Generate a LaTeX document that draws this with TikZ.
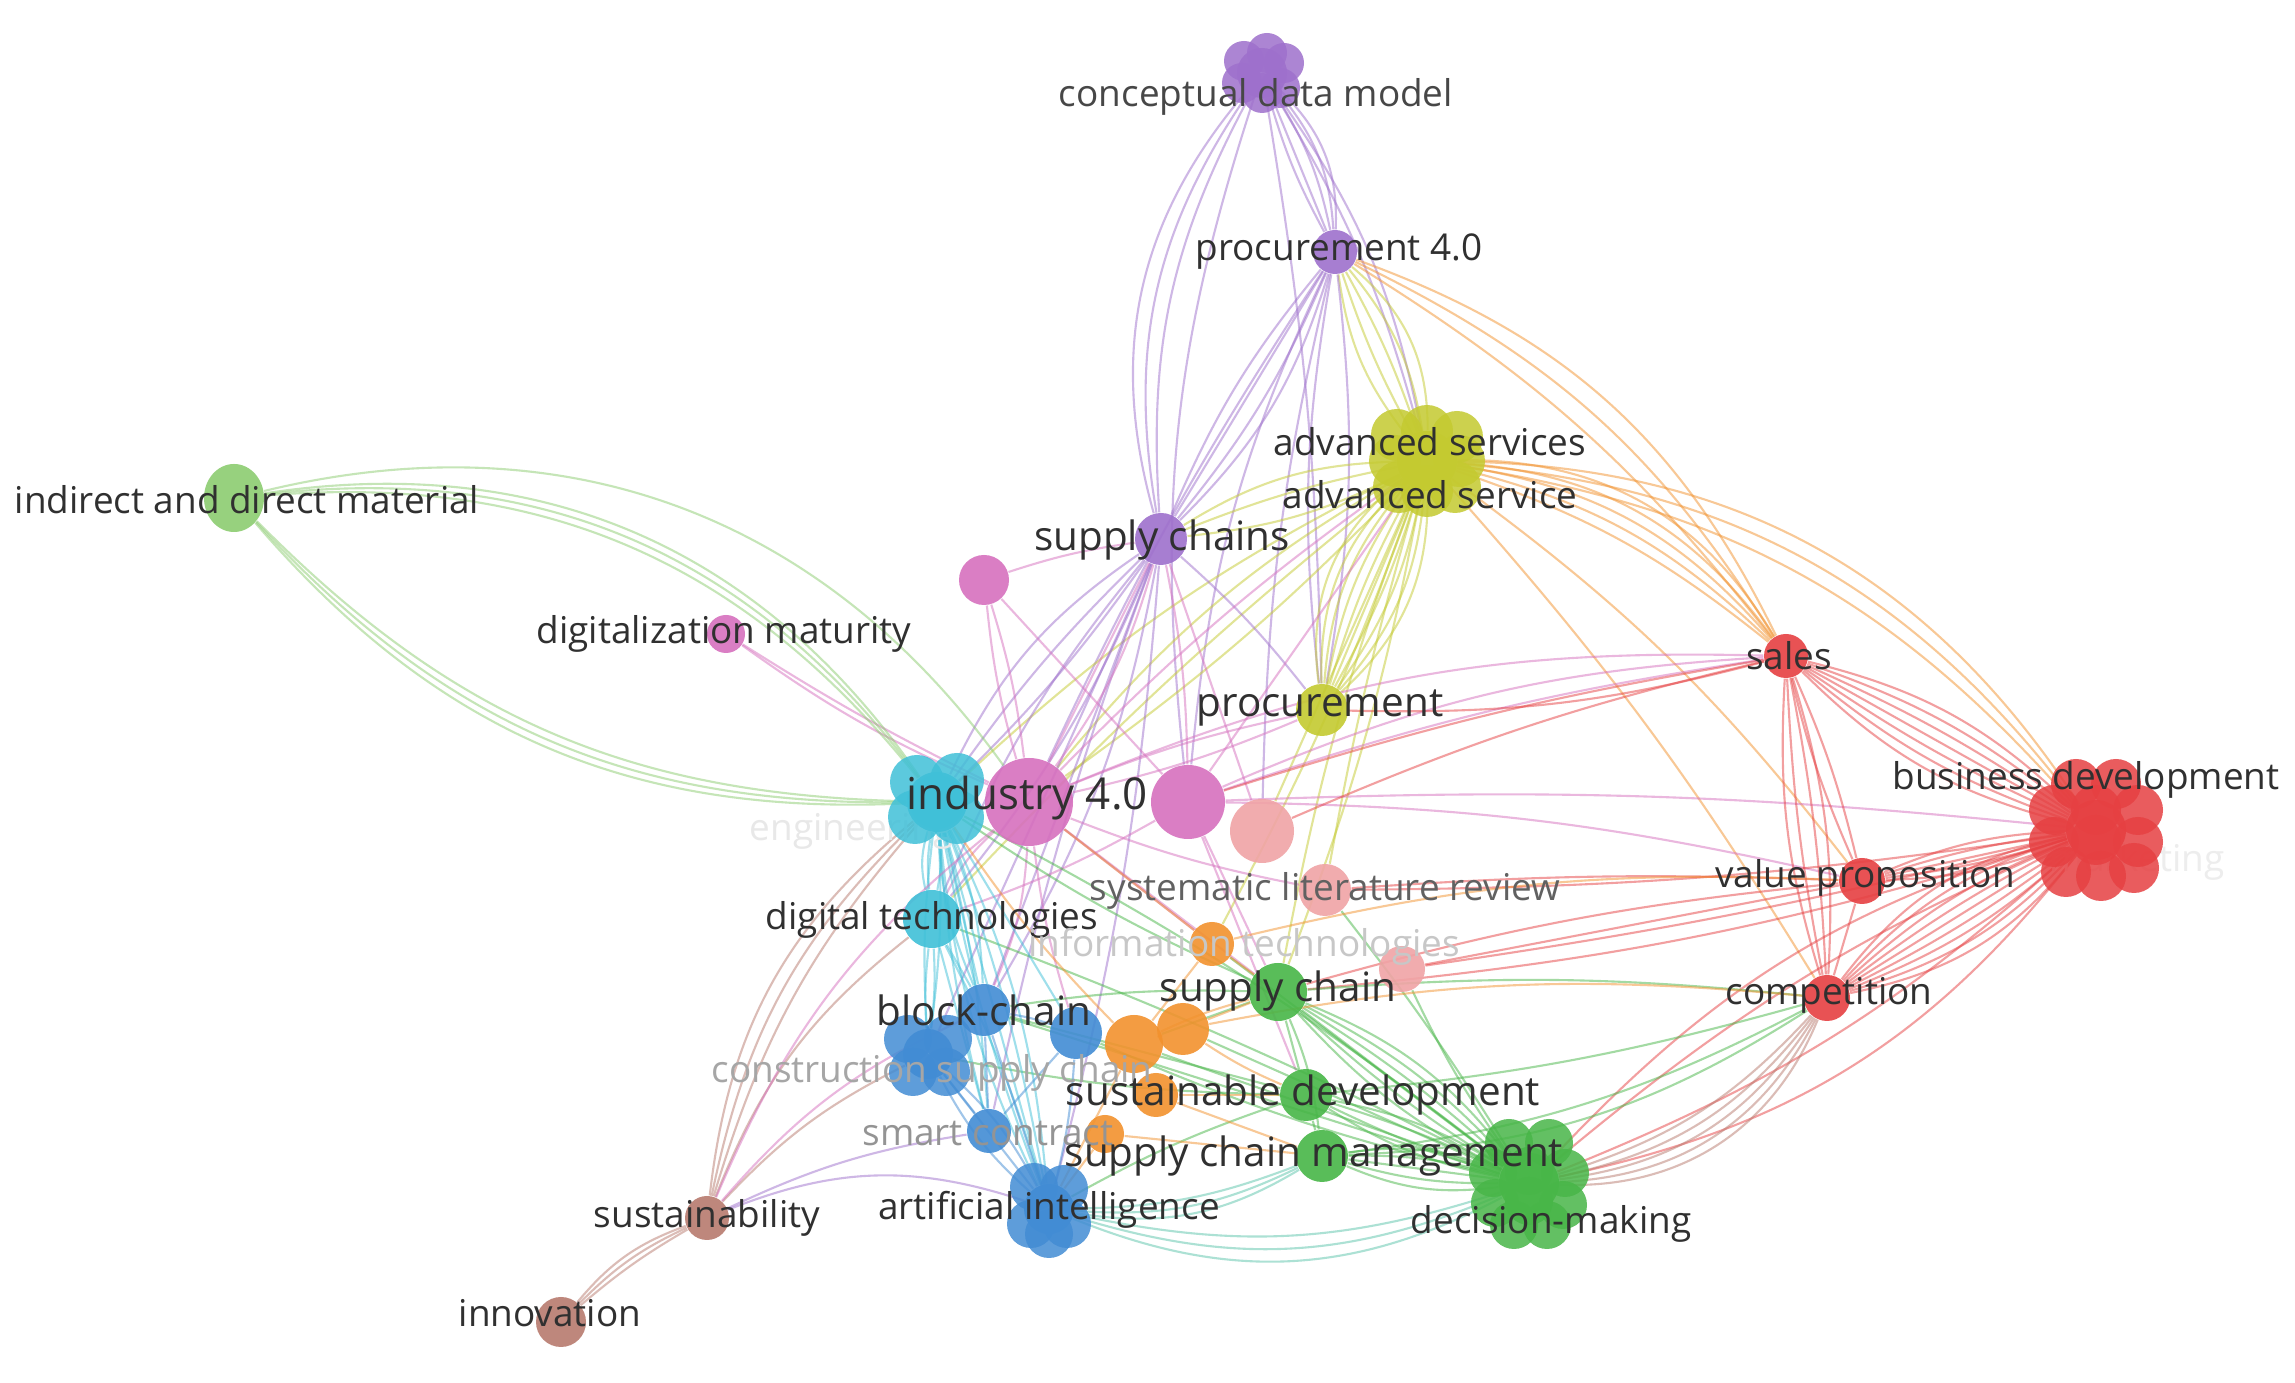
\documentclass[tikz,border=0pt]{standalone}
\usepackage{fontspec}
\setmainfont{Open Sans}
\usepackage{tikz}
\usetikzlibrary{backgrounds,shapes.geometric}
\definecolor{lavender}{RGB}{158,112,204}
\definecolor{chartreuse}{RGB}{196,202,48}
\definecolor{coralred}{RGB}{230,64,66}
\definecolor{turquoise}{RGB}{64,192,216}
\definecolor{orchid}{RGB}{214,112,190}
\definecolor{salmonpink}{RGB}{240,164,166}
\definecolor{tangerine}{RGB}{242,146,46}
\definecolor{leafgreen}{RGB}{72,182,72}
\definecolor{mossgreen}{RGB}{140,204,112}
\definecolor{azureblue}{RGB}{66,140,212}
\definecolor{rosybrown}{RGB}{184,122,110}
\definecolor{seagreen}{RGB}{90,196,170}
\definecolor{inkgray}{RGB}{48,48,48}

\begin{document}
\begin{tikzpicture}[kw/.style={circle, inner sep=0pt, fill opacity=0.9},
  link/.style={line width=0.6pt, opacity=0.5},
  lab/.style={inner sep=0pt, text=inkgray, font=\fontsize{10.5}{12}\selectfont},
  biglab/.style={lab, font=\fontsize{11.5}{13}\selectfont},
  bub/.style={opacity=0.85}]
\useasboundingbox (0,0) rectangle (22.95,13.83);
			 % keywords
			 \node [kw, fill=lavender, minimum size=0.5cm] (CDM) at (12.62,13.10) {};
			 \node [kw, fill=lavender, minimum size=0.44cm] (PFOUR) at (13.35,11.31) {};
			 \node [kw, fill=chartreuse, minimum size=0.6cm] (ADV) at (14.27,9.22) {};
			 \node [kw, fill=lavender, minimum size=0.52cm] (SCS) at (11.61,8.44) {};
			 \node [kw, ellipse, fill=mossgreen, minimum width=0.6cm, minimum height=0.68cm] (IDM) at (2.34,8.85) {};
			 \node [kw, fill=orchid, minimum size=0.38cm] (DMAT) at (7.26,7.49) {};
			 \node [kw, fill=orchid, minimum size=0.5cm] (PK) at (9.84,8.03) {};
			 \node [kw, fill=chartreuse, minimum size=0.52cm] (PROC) at (13.22,6.73) {};
			 \node [kw, fill=coralred, minimum size=0.44cm] (SALES) at (17.86,7.27) {};
			 \node [kw, fill=coralred, minimum size=0.6cm] (BD) at (20.96,5.53) {};
			 \node [kw, fill=coralred, minimum size=0.46cm] (VP) at (18.62,5.02) {};
			 \node [kw, fill=coralred, minimum size=0.46cm] (COMP) at (18.27,3.85) {};
			 \node [kw, fill=turquoise, minimum size=0.6cm] (INDC) at (9.37,5.81) {};
			 \node [kw, fill=orchid, minimum size=0.88cm] (INDP) at (10.29,5.81) {};
			 \node [kw, fill=orchid, minimum size=0.74cm] (INDQ) at (11.88,5.81) {};
			 \node [kw, fill=salmonpink, minimum size=0.64cm] (SAL1) at (12.62,5.52) {};
			 \node [kw, fill=salmonpink, minimum size=0.52cm] (SAL2) at (13.25,4.93) {};
			 \node [kw, fill=salmonpink, minimum size=0.46cm] (SAL3) at (14.02,4.14) {};
			 \node [kw, fill=turquoise, minimum size=0.58cm] (DT) at (9.32,4.64) {};
			 \node [kw, fill=tangerine, minimum size=0.44cm] (OR1) at (12.12,4.39) {};
			 \node [kw, fill=leafgreen, minimum size=0.58cm] (SCH) at (12.78,3.91) {};
			 \node [kw, fill=azureblue, minimum size=0.52cm] (BC1) at (9.84,3.73) {};
			 \node [kw, fill=azureblue, minimum size=0.52cm] (BC2) at (10.76,3.50) {};
			 \node [kw, fill=azureblue, minimum size=0.5cm] (BC3) at (9.28,3.29) {};
			 \node [kw, fill=tangerine, minimum size=0.58cm] (OR2) at (11.34,3.39) {};
			 \node [kw, fill=tangerine, minimum size=0.52cm] (OR3) at (11.83,3.54) {};
			 \node [kw, fill=tangerine, minimum size=0.44cm] (OR4) at (11.56,2.88) {};
			 \node [kw, fill=tangerine, minimum size=0.38cm] (OR5) at (11.05,2.49) {};
			 \node [kw, fill=leafgreen, minimum size=0.52cm] (SD) at (13.06,2.88) {};
			 \node [kw, fill=azureblue, minimum size=0.44cm] (SMC) at (9.89,2.52) {};
			 \node [kw, fill=leafgreen, minimum size=0.52cm] (SCM) at (13.22,2.27) {};
			 \node [kw, fill=leafgreen, minimum size=0.6cm] (DMK) at (15.29,2.00) {};
			 \node [kw, fill=azureblue, minimum size=0.5cm] (AI) at (10.49,1.74) {};
			 \node [kw, fill=rosybrown, minimum size=0.44cm] (SUS) at (7.07,1.65) {};
			 \node [kw, fill=rosybrown, minimum size=0.5cm] (INN) at (5.61,0.61) {};
			 % bubbles of the bigger clusters
			 \foreach \dx/\dy in {-0.18/0.12, 0.05/0.2, 0.22/0.1, -0.2/-0.1, 0.18/-0.15, 0/-0.2}
			   \fill [lavender, bub] ([shift={(\dx,\dy)}]CDM.center) circle (0.2);
			 \foreach \dx/\dy in {-0.3/0.26, 0/0.3, 0.3/0.24, -0.32/0, 0.32/0, -0.28/-0.26, 0/-0.3, 0.28/-0.26, 0/0}
			   \fill [chartreuse, bub] ([shift={(\dx,\dy)}]ADV.center) circle (0.26);
			 \foreach \dx/\dy in {-0.2/0.46, 0.2/0.46, -0.42/0.2, 0/0.2, 0.42/0.2, -0.42/-0.12, 0/-0.1, 0.42/-0.12, -0.3/-0.42, 0.05/-0.46, 0.38/-0.38}
			   \fill [coralred, bub] ([shift={(\dx,\dy)}]BD.center) circle (0.25);
			 \foreach \dx/\dy in {-0.2/0.4, 0.2/0.4, -0.36/0.1, 0/0.12, 0.36/0.1, -0.34/-0.2, 0/-0.18, 0.34/-0.22, -0.15/-0.42, 0.18/-0.42}
			   \fill [leafgreen, bub] ([shift={(\dx,\dy)}]DMK.center) circle (0.24);
			 \foreach \dx/\dy in {-0.2/0.2, 0.2/0.22, -0.22/-0.15, 0.2/-0.15, 0/0}
			   \fill [turquoise, bub] ([shift={(\dx,\dy)}]INDC.center) circle (0.27);
			 \foreach \dx/\dy in {-0.2/0.15, 0.2/0.15, -0.15/-0.18, 0.18/-0.18}
			   \fill [azureblue, bub] ([shift={(\dx,\dy)}]BC3.center) circle (0.24);
			 \foreach \dx/\dy in {-0.15/0.22, 0.15/0.2, -0.18/-0.15, 0.18/-0.15, 0/-0.25}
			   \fill [azureblue, bub] ([shift={(\dx,\dy)}]AI.center) circle (0.24);
			 % links
			 \begin{scope}[on background layer]
			 \fill [white] (0,0) rectangle (22.95,13.83);
			 \path [lavender] (CDM) edge[link, bend right=16] (SCS) edge[link, bend right=22] (SCS) edge[link, bend right=28] (SCS) edge[link, bend right=12] (INDQ);
			 \path [lavender] (CDM) edge[link, bend right=6] (PFOUR) edge[link] (PFOUR) edge[link, bend left=10] (PFOUR) edge[link, bend left=18] (PFOUR) edge[link, bend left=24] (PFOUR);
			 \path [lavender] (CDM) edge[link, bend left=12] (ADV) edge[link, bend left=8] (ADV) edge[link, bend left=4] (PROC);
			 \path [lavender] (PFOUR) edge[link, bend right=8] (SCS) edge[link] (SCS) edge[link, bend left=8] (SCS) edge[link, bend left=14] (SCS);
			 \path [lavender] (PFOUR) edge[link, bend right=10] (INDQ) edge[link, bend right=4] (INDP) edge[link, bend right=6] (SAL1);
			 \path [chartreuse] (PFOUR) edge[link, bend right=15] (ADV) edge[link, bend right=5] (ADV) edge[link, bend left=5] (ADV) edge[link, bend left=15] (ADV) edge[link, bend left=25] (ADV);
			 \path [tangerine] (PFOUR) edge[link, bend left=10] (SALES) edge[link, bend left=16] (SALES) edge[link, bend left=22] (SALES);
			 \path [lavender] (PFOUR) edge[link, bend right=8] (PROC) edge[link, bend left=8] (PROC);
			 \path [chartreuse] (ADV) edge[link, bend right=30] (PROC) edge[link, bend right=24] (PROC) edge[link, bend right=18] (PROC) edge[link, bend right=12] (PROC) edge[link, bend right=6] (PROC) edge[link] (PROC) edge[link, bend left=6] (PROC) edge[link, bend left=12] (PROC) edge[link, bend left=18] (PROC) edge[link, bend left=24] (PROC);
			 \path [tangerine] (ADV) edge[link, bend left=10] (SALES) edge[link, bend left=15] (SALES) edge[link, bend left=20] (SALES) edge[link, bend left=25] (SALES) edge[link, bend left=30] (SALES);
			 \path [tangerine] (ADV) edge[link, bend left=20] (BD) edge[link, bend left=24] (BD) edge[link, bend left=28] (BD) edge[link, bend left=5] (COMP) edge[link, bend left=8] (VP);
			 \path [chartreuse] (ADV) edge[link, bend right=10] (INDP) edge[link, bend left=5] (INDP) edge[link, bend right=5] (SCH) edge[link, bend left=5] (SCH) edge[link] (SAL1) edge[link, bend right=3] (SAL2) edge[link, bend left=4] (OR1);
			 \path [chartreuse] (ADV) edge[link, bend right=15] (SCS) edge[link, bend right=5] (SCS) edge[link, bend left=10] (SCS) edge[link, bend right=8] (INDC) edge[link, bend right=4] (DT);
			 \path [lavender] (SCS) edge[link, bend right=15] (INDC) edge[link, bend right=5] (INDC) edge[link, bend left=5] (INDC);
			 \path [lavender] (SCS) edge[link, bend right=8] (DT) edge[link, bend left=8] (DT) edge[link] (BC1) edge[link, bend left=10] (BC1) edge[link, bend left=5] (AI) edge[link, bend left=5] (PROC) edge[link] (BC3) edge[link, bend right=4] (SMC);
			 \path [orchid] (SCS) edge[link] (INDP) edge[link, bend left=10] (INDP) edge[link, bend left=5] (INDQ) edge[link] (SAL1);
			 \path [orchid] (INDP) edge[link, bend left=3] (DMAT) edge[link, bend left=6] (DMAT) edge[link, bend right=5] (PK) edge[link, bend left=5] (PK) edge[link, bend right=5] (PROC) edge[link, bend left=5] (PROC) edge[link, bend left=12] (SALES);
			 \path [orchid] (INDP) edge[link, bend right=10] (DT) edge[link, bend left=10] (BC1) edge[link] (SCH) edge[link, bend right=5] (SAL2) edge[link] (OR1) edge[link, bend right=5] (BC2) edge[link, bend left=5] (ADV);
			 \path [orchid] (INDQ) edge[link, bend left=5] (SALES) edge[link, bend left=10] (SALES) edge[link, bend left=6] (VP) edge[link, bend left=4] (BD) edge[link] (ADV) edge[link] (SCH) edge[link] (SD) edge[link, bend left=5] (DT);
			 \path [orchid] (PK) edge[link] (INDQ) edge[link, bend left=5] (SCS);
			 \path [mossgreen] (IDM) edge[link, bend left=28] (INDC) edge[link, bend left=30] (INDC) edge[link, bend left=32] (INDC) edge[link, bend left=34] (INDP);
			 \path [mossgreen] (IDM) edge[link, bend right=22] (INDC) edge[link, bend right=24] (INDC) edge[link, bend right=26] (INDC);
			 \path [coralred] (SALES) edge[link, bend right=15] (BD) edge[link, bend right=10] (BD) edge[link, bend right=5] (BD) edge[link] (BD) edge[link, bend left=5] (BD) edge[link, bend left=10] (BD) edge[link, bend left=15] (BD);
			 \path [coralred] (SALES) edge[link, bend right=5] (VP) edge[link, bend left=5] (VP) edge[link, bend right=10] (COMP) edge[link, bend right=4] (COMP) edge[link, bend left=4] (COMP) edge[link, bend left=10] (COMP);
			 \path [coralred] (SALES) edge[link, bend left=8] (PROC) edge[link, bend right=5] (SAL1) edge[link, bend right=4] (INDQ);
			 \path [coralred] (BD) edge[link, bend right=10] (VP) edge[link, bend right=5] (VP) edge[link] (VP) edge[link, bend left=5] (VP) edge[link, bend left=10] (VP);
			 \path [coralred] (BD) edge[link, bend right=20] (COMP) edge[link, bend right=15] (COMP) edge[link, bend right=10] (COMP) edge[link, bend right=5] (COMP) edge[link] (COMP) edge[link, bend left=5] (COMP) edge[link, bend left=10] (COMP) edge[link, bend left=15] (COMP) edge[link, bend left=20] (COMP);
			 \path [coralred] (BD) edge[link, bend right=15] (DMK) edge[link, bend right=8] (DMK) edge[link, bend left=10] (DMK) edge[link, bend left=20] (DMK) edge[link, bend left=6] (SCH) edge[link, bend left=3] (SAL3) edge[link, bend left=4] (SAL2);
			 \path [coralred] (VP) edge[link] (COMP) edge[link, bend right=5] (SCH) edge[link] (SAL3) edge[link, bend right=3] (SAL2);
			 \path [rosybrown] (COMP) edge[link, bend left=15] (DMK) edge[link, bend left=20] (DMK) edge[link, bend left=25] (DMK) edge[link, bend left=30] (DMK) edge[link, bend left=35] (DMK);
			 \path [leafgreen] (COMP) edge[link, bend left=10] (SCM) edge[link, bend left=5] (SD) edge[link, bend right=5] (SCH) edge[link, bend left=15] (SCM);
			 \path [leafgreen] (DMK) edge[link, bend right=15] (SCH) edge[link, bend right=10] (SCH) edge[link, bend right=5] (SCH) edge[link] (SCH) edge[link, bend left=5] (SCH) edge[link, bend left=10] (SCH);
			 \path [leafgreen] (DMK) edge[link, bend right=10] (SD) edge[link, bend right=4] (SD) edge[link, bend left=4] (SD) edge[link, bend left=10] (SD);
			 \path [leafgreen] (DMK) edge[link, bend right=15] (SCM) edge[link, bend right=8] (SCM) edge[link] (SCM) edge[link, bend left=8] (SCM) edge[link, bend left=15] (SCM);
			 \path [leafgreen] (DMK) edge[link, bend left=5] (BC2) edge[link, bend right=5] (INDC) edge[link] (OR1) edge[link, bend left=5] (SAL3) edge[link] (OR2) edge[link] (OR3) edge[link, bend right=3] (SAL2) edge[link] (BC1) edge[link, bend right=3] (DT);
			 \path [seagreen] (DMK) edge[link, bend left=15] (AI) edge[link, bend left=20] (AI) edge[link, bend left=25] (AI);
			 \path [seagreen] (SCM) edge[link, bend left=10] (AI) edge[link, bend left=15] (AI) edge[link, bend left=20] (AI);
			 \path [leafgreen] (SCH) edge[link, bend right=5] (BC1) edge[link, bend left=5] (INDC) edge[link] (SD) edge[link, bend left=8] (SCM) edge[link] (OR2);
			 \path [leafgreen] (SD) edge[link, bend left=5] (BC3) edge[link, bend right=5] (AI) edge[link] (SCM) edge[link] (BC1);
			 \path [turquoise] (INDC) edge[link, bend right=8] (DT) edge[link, bend left=8] (DT) edge[link, bend right=15] (DT) edge[link, bend right=10] (BC1) edge[link] (BC1) edge[link, bend left=10] (BC1);
			 \path [turquoise] (INDC) edge[link, bend right=5] (BC3) edge[link, bend left=5] (BC3) edge[link, bend right=10] (AI) edge[link, bend right=5] (AI) edge[link] (AI) edge[link, bend left=5] (AI) edge[link, bend left=10] (AI) edge[link, bend left=5] (SMC) edge[link, bend right=5] (SMC) edge[link] (BC2);
			 \path [turquoise] (DT) edge[link, bend right=5] (BC3) edge[link, bend left=5] (BC3) edge[link, bend left=5] (AI) edge[link] (BC1) edge[link] (SMC);
			 \path [azureblue] (BC3) edge[link, bend right=10] (AI) edge[link] (AI) edge[link, bend left=10] (AI) edge[link] (SMC);
			 \path [azureblue] (BC1) edge[link] (AI) edge[link, bend left=5] (BC2) edge[link] (SMC);
			 \path [azureblue] (BC2) edge[link, bend left=5] (AI) edge[link] (SMC);
			 \path [rosybrown] (SUS) edge[link, bend left=12] (INDC) edge[link, bend left=17] (INDC) edge[link, bend left=22] (INDC) edge[link, bend left=10] (BC3) edge[link, bend left=15] (DT);
			 \path [orchid] (SUS) edge[link, bend left=14] (INDP) edge[link, bend left=12] (BC1);
			 \path [lavender] (SUS) edge[link, bend left=20] (AI) edge[link, bend left=8] (SMC);
			 \path [rosybrown] (SUS) edge[link, bend right=5] (INN) edge[link, bend right=10] (INN) edge[link, bend right=15] (INN);
			 \path [tangerine] (OR2) edge[link, bend left=5] (SCH) edge[link, bend left=5] (INDC) edge[link] (AI) edge[link] (OR3);
			 \path [tangerine] (OR3) edge[link, bend right=5] (SD) edge[link, bend left=8] (COMP) edge[link] (SCH);
			 \path [tangerine] (OR1) edge[link] (SCH) edge[link, bend left=8] (VP) edge[link] (INDP) edge[link] (OR2);
			 \path [tangerine] (OR4) edge[link] (SCM) edge[link] (SD);
			 \path [tangerine] (OR5) edge[link] (AI) edge[link] (SCM);
			 % hidden labels
			 \node [lab, text=black!9] (tENG) at (8.52,5.52) {engineering};
			 \node [lab, text=black!7] (tMKT) at (21.37,5.21) {marketing};
			 \end{scope}
			 % labels
			 \node [lab, text=black!72] (tCDM) at (12.56,12.86) {conceptual data model};
			 \node [lab] (tPFOUR) at (13.39,11.31) {procurement 4.0};
			 \node [lab] (tADVS) at (14.30,9.41) {advanced services};
			 \node [lab] (tADV) at (14.30,8.88) {advanced service};
			 \node [biglab] (tSCS) at (11.62,8.43) {supply chains};
			 \node [lab] (tIDM) at (2.47,8.83) {indirect and direct material};
			 \node [lab] (tDMAT) at (7.24,7.49) {digitalization maturity};
			 \node [biglab] (tPROC) at (13.20,6.75) {procurement};
			 \node [lab] (tSALES) at (17.89,7.27) {sales};
			 \node [lab] (tBD) at (20.86,6.03) {business development};
			 \node [lab] (tVP) at (18.65,5.05) {value proposition};
			 \node [lab] (tCOMP) at (18.29,3.88) {competition};
			 \node [lab, font=\fontsize{12.5}{14}\selectfont] (tIND) at (10.27,5.85) {industry 4.0};
			 \node [lab, text=black!62] (tSLR) at (13.25,4.92) {systematic literature review};
			 \node [lab] (tDT) at (9.32,4.63) {digital technologies};
			 \node [lab, text=black!22] (tIT) at (12.44,4.36) {information technologies};
			 \node [biglab] (tSCH) at (12.78,3.92) {supply chain};
			 \node [biglab] (tBC) at (9.84,3.73) {block-chain};
			 \node [lab, text=black!35] (tCSC) at (9.32,3.10) {construction supply chain};
			 \node [biglab] (tSD) at (13.03,2.88) {sustainable development};
			 \node [lab, text=black!42] (tSMC) at (9.88,2.49) {smart contract};
			 \node [biglab] (tSCM) at (13.14,2.27) {supply chain management};
			 \node [lab] (tDMK) at (15.51,1.59) {decision-making};
			 \node [lab] (tAI) at (10.49,1.73) {artificial intelligence};
			 \node [lab] (tSUS) at (7.07,1.65) {sustainability};
			 \node [lab] (tINN) at (5.50,0.70) {innovation};
		\end{tikzpicture}
\end{document}
